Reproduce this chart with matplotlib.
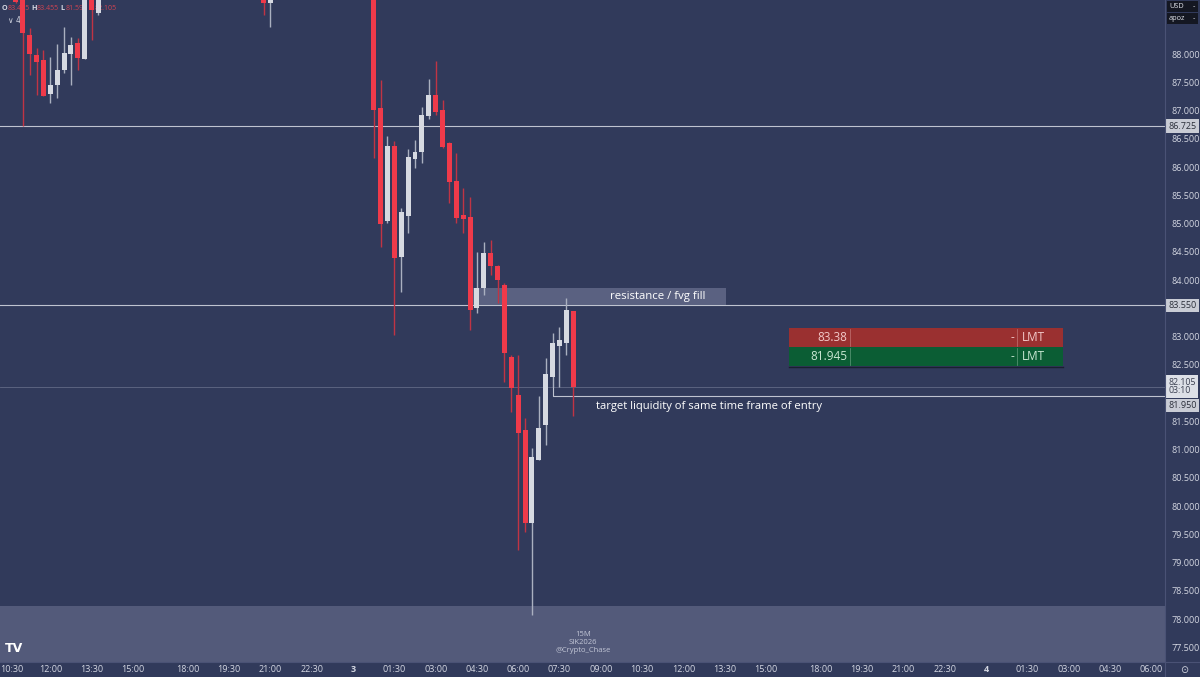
import matplotlib
matplotlib.use("Agg")
import matplotlib.pyplot as plt
from matplotlib.patches import Rectangle
import matplotlib.transforms as mtransforms

plt.rcParams['font.family'] = ['Open Sans', 'DejaVu Sans']

# ---------------- data ----------------
candle_time = ["2 10:45", "2 11:00", "2 11:15", "2 11:30", "2 11:45", "2 12:00", "2 12:15",
               "2 12:30", "2 12:45", "2 13:00", "2 13:15", "2 13:30", "2 13:45",
               "2 20:45", "2 21:00",
               "3 00:45", "3 01:00", "3 01:15", "3 01:30", "3 01:45", "3 02:00", "3 02:15",
               "3 02:30", "3 02:45", "3 03:00", "3 03:15", "3 03:30", "3 03:45", "3 04:00",
               "3 04:15", "3 04:30", "3 04:45", "3 05:00", "3 05:15", "3 05:30", "3 05:45",
               "3 06:00", "3 06:15", "3 06:30", "3 06:45", "3 07:00", "3 07:15", "3 07:30",
               "3 07:45", "3 08:00"]
opens = [89.30, 89.20, 88.34, 87.98, 87.89, 87.29, 87.45, 87.72, 88.00, 88.19, 87.91, 89.20, 88.73,
         89.10, 88.91,
         89.20, 87.04, 85.04, 86.37, 84.41, 85.13, 86.14, 86.27, 86.90, 87.27, 87.01, 86.42, 85.75,
         85.15, 85.12, 83.50, 83.86, 84.48, 84.25, 83.91, 82.64, 81.96, 81.35, 79.70, 80.81, 81.43,
         82.28, 82.83, 82.88, 83.445]
highs = [89.45, 89.30, 88.46, 88.11, 88.07, 87.95, 88.18, 88.48, 88.30, 88.28, 89.40, 89.35, 89.15,
         89.25, 89.20,
         89.35, 87.54, 86.55, 86.46, 85.27, 86.32, 86.48, 87.06, 87.56, 87.88, 87.19, 86.45, 86.25,
         85.63, 85.47, 84.50, 84.67, 84.71, 84.27, 83.95, 82.67, 82.67, 81.56, 81.03, 81.95, 82.62,
         83.06, 83.17, 83.68, 83.455]
lows = [88.90, 86.725, 87.63, 87.27, 87.26, 87.13, 87.22, 87.66, 87.45, 87.72, 87.91, 88.25, 88.69,
        88.69, 88.48,
        86.16, 84.58, 85.01, 83.03, 83.79, 84.83, 85.98, 86.07, 86.85, 86.92, 86.33, 85.36, 85.01,
        84.83, 83.12, 83.42, 83.73, 84.09, 83.59, 82.19, 81.66, 79.22, 79.54, 78.07, 80.81, 81.08,
        82.11, 82.11, 82.67, 81.59]
closes = [88.92, 88.37, 88.00, 87.86, 87.26, 87.45, 87.72, 88.02, 88.16, 87.93, 89.20, 88.78, 89.10,
          88.90, 89.05,
          87.01, 84.99, 86.37, 84.39, 85.20, 86.18, 86.27, 86.92, 87.27, 86.97, 86.35, 85.73, 85.10,
          85.08, 83.47, 83.86, 84.48, 84.25, 84.00, 82.71, 82.09, 81.29, 79.70, 80.87, 81.38, 82.34,
          82.88, 82.94, 83.47, 82.105]

tick_times = ["2 10:30", "2 12:00", "2 13:30", "2 15:00", "2 18:00", "2 19:30", "2 21:00", "2 22:30",
              "3 00:00", "3 01:30", "3 03:00", "3 04:30", "3 06:00", "3 07:30", "3 09:00", "3 10:30",
              "3 12:00", "3 13:30", "3 15:00", "3 18:00", "3 19:30", "3 21:00", "3 22:30",
              "4 00:00", "4 01:30", "4 03:00", "4 04:30", "4 06:00"]
tick_labels = ["10:30", "12:00", "13:30", "15:00", "18:00", "19:30", "21:00", "22:30",
               "3", "01:30", "03:00", "04:30", "06:00", "07:30", "09:00", "10:30",
               "12:00", "13:30", "15:00", "18:00", "19:30", "21:00", "22:30",
               "4", "01:30", "03:00", "04:30", "06:00"]

price_ticks = [77.5, 78.0, 78.5, 79.0, 79.5, 80.0, 80.5, 81.0, 81.5, 82.0, 82.5, 83.0,
               83.5, 84.0, 84.5, 85.0, 85.5, 86.0, 86.5, 87.0, 87.5, 88.0]
level_lines = [86.725, 83.550]
current_price = 82.105
countdown = "03:10"
target_price = 81.950
target_start = "3 07:15"
fvg_zone = (83.55, 83.86)
fvg_span = ("3 04:15", "3 13:30")
bottom_zone_top = 78.23
order_prices = ["83.38", "81.945"]
header_vals = [("O", "83.445"), ("H", "83.455"), ("L", "81.590"), ("C", "82.105")]

# ---------------- helpers ----------------
def bar_index(t):
    day, hm = t.split()
    h, m = map(int, hm.split(':'))
    minutes = (int(day) - 2) * 1440 + h * 60 + m - 630
    breaks = 0
    for d in (2, 3):
        if minutes >= (d - 2) * 1440 + 18 * 60 - 630:
            breaks += 1
    return (minutes - breaks * 60) / 15.0

BG = '#313a5b'
RED = '#ef3a4a'
RED_WICK = '#c03444'
WHITE = '#d6d9e1'
WHITE_WICK = '#aab0c0'
TXT = '#d4d7e2'

W, H = 1200, 677
fig = plt.figure(figsize=(12, 6.77), dpi=100, facecolor=BG)
ax = fig.add_axes([0, 15 / H, 1165 / W, 662 / H], facecolor=BG)
ax.set_xlim(-1.31, 168.0)
ax.set_ylim(77.239, 88.956)
for s in ax.spines.values():
    s.set_visible(False)

# bottom zone
ax.axhspan(77.0, bottom_zone_top, color='#535a7a', zorder=1, lw=0)

# level lines
for lv in level_lines:
    ax.axhline(lv, color='#bfc3d0', lw=0.8, zorder=2)
ax.axhline(current_price, color='#8a90a8', lw=0.6, alpha=0.55, zorder=2)

# fvg box
x0 = bar_index(fvg_span[0]) - 0.2
x1 = bar_index(fvg_span[1]) + 0.2
ax.add_patch(Rectangle((x0, fvg_zone[0]), x1 - x0, fvg_zone[1] - fvg_zone[0],
                       facecolor='#6a7190', alpha=0.72, lw=0, zorder=2))
ax.text(x1 - 10.0, (fvg_zone[0] + fvg_zone[1]) / 2 + 0.01, "resistance / fvg fill",
        color='white', fontsize=8.2, ha='center', va='center', zorder=6)

# target line
tx = bar_index(target_start)
ax.plot([tx, tx, 170], [82.11, target_price, target_price], color='#bfc3d0', lw=0.8,
        zorder=2, clip_on=True)
ax.text(tx + 6.3, target_price - 0.19, "target liquidity of same time frame of entry",
        color='white', fontsize=8.1, ha='left', va='center', zorder=6)

# header
htr = mtransforms.blended_transform_factory(mtransforms.IdentityTransform(), ax.transAxes)
hx = 2
for lab, val in header_vals:
    ax.text(hx, 0.9875, lab, transform=htr, color=TXT, fontsize=5.2,
            ha='left', va='center', zorder=1.5, fontweight='bold')
    ax.text(hx + 5.5, 0.9875, val, transform=htr, color='#d04452', fontsize=5.0,
            ha='left', va='center', zorder=1.5)
    hx += 29
ax.text(8, 0.9685, "∨ 4", transform=htr, color=TXT, fontsize=5.5,
        ha='left', va='center', zorder=1.5, family='DejaVu Sans')

# candles
bw = 0.72
for t, o, h, l, c in zip(candle_time, opens, highs, lows, closes):
    i = bar_index(t)
    up = c >= o
    ax.vlines(i, l, h, color=WHITE_WICK if up else RED_WICK, lw=1.0, zorder=3)
    lo = min(o, c)
    ht = max(abs(c - o), 0.02)
    ax.add_patch(Rectangle((i - bw / 2, lo), bw, ht, facecolor=WHITE if up else RED,
                           edgecolor='none', zorder=4))

# axes ticks (hide ticks covered by highlighted price labels)
marked = level_lines + [current_price, target_price]
shown = [p for p in price_ticks if min(abs(p - m) for m in marked) > 0.12]
ax.yaxis.tick_right()
ax.set_yticks(shown)
ax.set_yticklabels([f"{p:.3f}" for p in shown])
ax.tick_params(axis='y', length=0, pad=5, labelsize=6.5, labelcolor=TXT)
ax.set_xticks([bar_index(t) for t in tick_times])
ax.set_xticklabels([""] + tick_labels[1:])
ax.tick_params(axis='x', length=0, pad=2.5, labelsize=6.5, labelcolor=TXT)
for lbl in ax.get_xticklabels():
    if lbl.get_text() in ("3", "4"):
        lbl.set_fontweight('bold')
fig.text(0.5 / W, 1 - 670 / H, tick_labels[0], color=TXT, fontsize=6.5, ha='left', va='center')

# separators
fig.add_artist(plt.Line2D([1165 / W, 1165 / W], [0, 1], color='#4a5275', lw=0.8))
fig.add_artist(plt.Line2D([0, 1], [15 / H, 15 / H], color='#4a5275', lw=0.8))

# price labels on axis
blend = mtransforms.blended_transform_factory(ax.transAxes, ax.transData)
for lv in level_lines:
    ax.text(1.003, lv, f"{lv:.3f}", transform=blend, color='#2a2e39', fontsize=6.5,
            ha='left', va='center', clip_on=False, zorder=10,
            bbox=dict(boxstyle='square,pad=0.25', fc='#c9ccd5', ec='none'))
ax.text(1.003, current_price + 0.01, f"{current_price:.3f}\n{countdown}", transform=blend,
        color='#3a3f50', fontsize=6.3, ha='left', va='center', clip_on=False, zorder=10,
        linespacing=0.95, bbox=dict(boxstyle='square,pad=0.25', fc='#dde0e7', ec='none'))
ax.text(1.003, target_price - 0.17, f"{target_price:.3f}", transform=blend, color='#2a2e39',
        fontsize=6.5, ha='left', va='center', clip_on=False, zorder=10,
        bbox=dict(boxstyle='square,pad=0.25', fc='#c9ccd5', ec='none'))

# order panel boxes (axes coords)
ox0, ox1 = 789 / 1165, 1063 / 1165
rows = [(order_prices[0], '#9a3030', '#f2c9c9', 328, 347),
        (order_prices[1], '#0b5d34', '#c9e8d3', 347, 366)]
for price, fc, tc, ytop, ybot in rows:
    y0 = (662 - ybot) / 662
    y1 = (662 - ytop) / 662
    ax.add_patch(Rectangle((ox0, y0), ox1 - ox0, y1 - y0, transform=ax.transAxes,
                           facecolor=fc, edgecolor='none', zorder=7))
    ym = (y0 + y1) / 2
    for dx in (850 / 1165, 1017 / 1165):
        ax.plot([dx, dx], [y0 + 0.002, y1 - 0.002], transform=ax.transAxes,
                color=tc, lw=0.5, alpha=0.45, zorder=8)
    ax.text(847 / 1165, ym, price, transform=ax.transAxes, color=tc, fontsize=8.5,
            ha='right', va='center', zorder=9)
    ax.text(1014 / 1165, ym, "-", transform=ax.transAxes, color=tc, fontsize=8.5,
            ha='right', va='center', zorder=9)
    ax.text(1022 / 1165, ym, "LMT", transform=ax.transAxes, color=tc, fontsize=8.5,
            ha='left', va='center', zorder=9)
ax.plot([ox0, ox1], [(662 - 366.5) / 662] * 2, transform=ax.transAxes, color='#1a2030',
        lw=1.0, zorder=9)

# watermark
for k, s in enumerate(["15M", "SIK2026", "@Crypto_Chase"]):
    fig.text(583 / W, 1 - (634 + k * 8) / H, s, color='#c2c6d6', fontsize=5.5,
             ha='center', va='center')

# TradingView logo approximation
fig.text(5 / W, 1 - 649 / H, "TV", color='white', fontsize=9, fontweight='heavy',
         ha='left', va='center', family='DejaVu Sans')

# top-right currency boxes
for k, s in enumerate(["USD", "apoz"]):
    yc = 1 - (6.5 + k * 12) / H
    fig.patches.append(Rectangle((1167 / W, yc - 5.5 / H), 31 / W, 11 / H,
                                 transform=fig.transFigure, facecolor='#141722',
                                 edgecolor='none'))
    fig.text(1169 / W, yc, s, color='#e0e3ea', fontsize=5.3, ha='left', va='center')
    fig.text(1195 / W, yc, "-", color='#e0e3ea', fontsize=5.3, ha='right', va='center')

fig.text(1184 / W, 1 - 670 / H, "⊙", color=TXT, fontsize=7, ha='center', va='center',
         family='DejaVu Sans')

fig.savefig("out.png", dpi=100, facecolor=BG)
